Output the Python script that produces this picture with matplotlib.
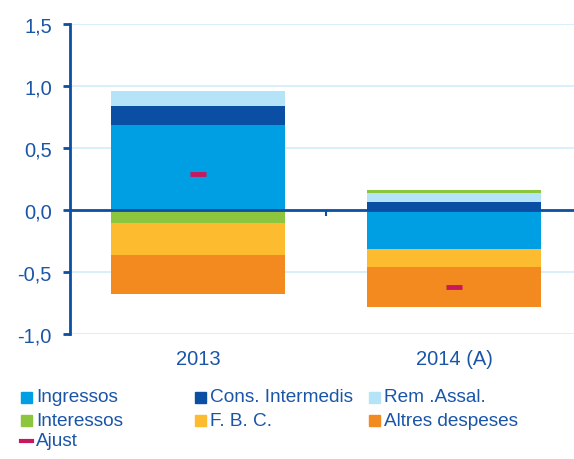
import matplotlib
matplotlib.use("Agg")
import matplotlib.pyplot as plt
import numpy as np
from matplotlib.patches import Rectangle
from matplotlib.lines import Line2D

plt.rcParams['font.family'] = ['Liberation Sans', 'DejaVu Sans']

categories = ["2013", "2014 (A)"]
series_names = ["Ingressos", "Cons. Intermedis", "Rem .Assal.", "Interessos", "F. B. C.", "Altres despeses"]
ingressos = [0.688, -0.315]
cons_intermedis = [0.151, 0.065]
rem_assal = [0.123, 0.076]
interessos = [-0.105, 0.022]
fbc = [-0.255, -0.145]
altres = [-0.317, -0.325]
ajust = [0.29, -0.62]
yticks = [-1.0, -0.5, 0.0, 0.5, 1.0, 1.5]
ytick_labels = ["-1,0", "-0,5", "0,0", "0,5", "1,0", "1,5"]

colors = ["#009fe3", "#0a4fa3", "#b5e3f8", "#8cc63f", "#fdbb30", "#f28a1f"]
ajust_color = "#c8175d"
text_color = "#1a55a8"
axis_color = "#0b4ea2"
grid_color = "#d6eef9"

W, H = 574, 460
fig = plt.figure(figsize=(W / 100, H / 100), dpi=100)
ax = fig.add_axes([70 / W, 1 - 335 / H, 512 / W, 310 / H])

x = np.arange(len(categories))
data = [ingressos, cons_intermedis, rem_assal, interessos, fbc, altres]
pos_base = np.zeros(len(categories))
neg_base = np.zeros(len(categories))
bw = 0.676
for vals, c in zip(data, colors):
    vals = np.array(vals)
    bottoms = np.where(vals >= 0, pos_base, neg_base)
    ax.bar(x, vals, bw, bottom=bottoms, color=c, edgecolor='none', zorder=2)
    pos_base = pos_base + np.where(vals >= 0, vals, 0)
    neg_base = neg_base + np.where(vals < 0, vals, 0)

ax.plot(x, ajust, linestyle='none', marker='_', markersize=11, markeredgewidth=3.5,
        color=ajust_color, zorder=4)

ax.set_xlim(-0.5, 1.5)
ax.set_ylim(-1.0, 1.5)
for yv in yticks:
    if yv != 0:
        ax.axhline(yv, color=grid_color, linewidth=1.3, zorder=0)
ax.axhline(0, color=axis_color, linewidth=2.0, zorder=3)
ax.plot([0.5, 0.5], [0, -0.045], color=axis_color, linewidth=1.5, zorder=3, solid_capstyle='butt')

for s in ['top', 'right', 'bottom']:
    ax.spines[s].set_visible(False)
ax.spines['left'].set_color(axis_color)
ax.spines['left'].set_linewidth(2.0)
ax.spines['left'].set_bounds(-1.0, 1.5)

ax.set_yticks(yticks)
ax.set_yticklabels(ytick_labels)
ax.tick_params(axis='y', direction='out', length=5, width=2, color=axis_color,
               labelcolor=text_color, labelsize=14.5, pad=8)
ax.set_xticks(x)
ax.set_xticklabels(categories)
ax.tick_params(axis='x', length=0, labelcolor=text_color, labelsize=14.5, pad=11)

# Legend (manual layout)
leg_cols = [21, 195, 369]
leg_rows = [398, 421, 442]
labels_grid = [
    (0, 0, series_names[0], colors[0]),
    (0, 1, series_names[1], colors[1]),
    (0, 2, series_names[2], colors[2]),
    (1, 0, series_names[3], colors[3]),
    (1, 1, series_names[4], colors[4]),
    (1, 2, series_names[5], colors[5]),
]
for r, c, lab, col in labels_grid:
    px, py = leg_cols[c], leg_rows[r]
    fig.patches.append(Rectangle((px / W, 1 - (py + 5.5) / H), 11 / W, 11 / H,
                                 transform=fig.transFigure, color=col, figure=fig))
    fig.text((px + 15) / W, 1 - py / H, lab, color=text_color, fontsize=13.7,
             va='center', ha='left')
px, py = leg_cols[0], leg_rows[2]
fig.lines.append(Line2D([px / W, (px + 11) / W], [1 - py / H, 1 - py / H],
                        transform=fig.transFigure, color=ajust_color, linewidth=3, figure=fig))
fig.text((px + 15) / W, 1 - py / H, "Ajust", color=text_color, fontsize=13.7,
         va='center', ha='left')

fig.savefig("out.png", dpi=100)
